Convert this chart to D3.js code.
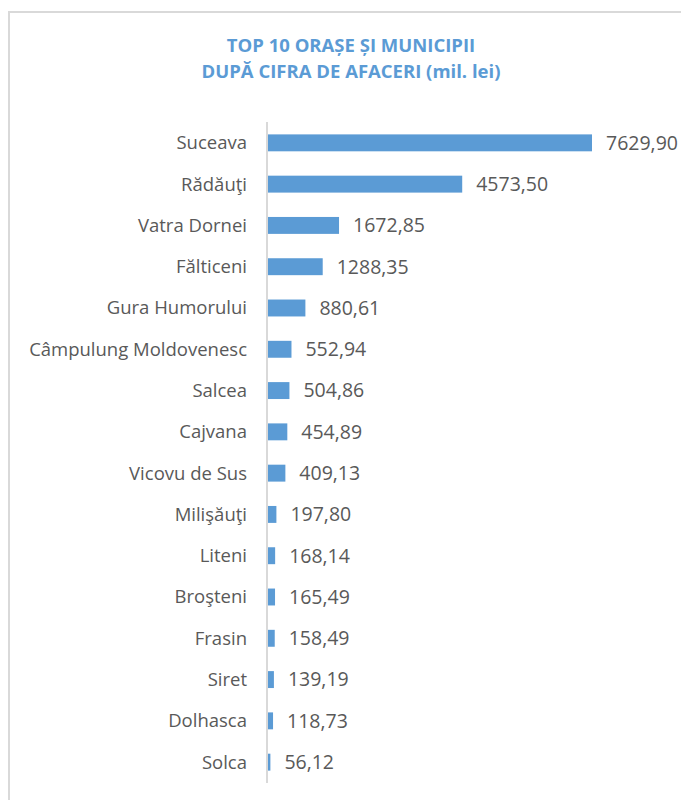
<!DOCTYPE html>
<html>
<head>
<meta charset="utf-8">
<script src="https://cdn.jsdelivr.net/npm/d3@7"></script>
<style>
body { margin: 0; background: #fff; }
</style>
</head>
<body>
<script>
var cities = ['Suceava', 'Rădăuţi', 'Vatra Dornei', 'Fălticeni', 'Gura Humorului',
    'Câmpulung Moldovenesc', 'Salcea', 'Cajvana', 'Vicovu de Sus', 'Milişăuţi',
    'Liteni', 'Broşteni', 'Frasin', 'Siret', 'Dolhasca', 'Solca'];
var values = [7629.90, 4573.50, 1672.85, 1288.35, 880.61, 552.94, 504.86, 454.89,
    409.13, 197.80, 168.14, 165.49, 158.49, 139.19, 118.73, 56.12];
var titleLines = ['TOP 10 ORAȘE ȘI MUNICIPII', 'DUPĂ CIFRA DE AFACERI (mil. lei)'];

var w = 681, h = 800;
var font = '"Open Sans", sans-serif';

var svg = d3.select('body')
.append('svg')
.attr('width', w)
.attr('height', h);

// chart frame
svg.append('rect')
.attr('x', 9)
.attr('y', 12)
.attr('width', w + 10)
.attr('height', h + 10)
.attr('fill', '#fff')
.attr('stroke', '#d9d9d9')
.attr('stroke-width', 2);

svg.selectAll('text.title')
.data(titleLines)
.enter().append('text')
.attr('class', 'title')
.attr('x', 351)
.attr('y', function(d, i) { return 52 + i * 26; })
.attr('text-anchor', 'middle')
.attr('font-family', font)
.attr('font-weight', 'bold')
.attr('font-size', 18.5)
.attr('fill', '#5b9bd5')
.text(function(d) { return d; });

var x0 = 268;
var x = d3.scaleLinear()
.domain([0, 7629.9])
.range([x0, 592]);

var y = d3.scaleBand()
.domain(cities)
.range([122, 783])
.paddingInner(0.59)
.paddingOuter(0.3);

var fmt = function(v) { return d3.format('.2f')(v).replace('.', ','); };

svg.selectAll('rect.bar')
.data(values)
.enter().append('rect')
.attr('class', 'bar')
.attr('x', x0)
.attr('y', function(d, i) { return y(cities[i]); })
.attr('width', function(d) { return x(d) - x0; })
.attr('height', y.bandwidth())
.attr('fill', '#5b9bd5');

// category axis line
svg.append('line')
.attr('x1', x0 - 1)
.attr('x2', x0 - 1)
.attr('y1', 122)
.attr('y2', 783)
.attr('stroke', '#d9d9d9')
.attr('stroke-width', 2);

svg.selectAll('text.cat')
.data(cities)
.enter().append('text')
.attr('class', 'cat')
.attr('x', 247)
.attr('y', function(d) { return y(d) + y.bandwidth() / 2; })
.attr('dy', '0.35em')
.attr('text-anchor', 'end')
.attr('font-family', font)
.attr('font-size', 18.5)
.attr('fill', '#595959')
.text(function(d) { return d; });

svg.selectAll('text.val')
.data(values)
.enter().append('text')
.attr('class', 'val')
.attr('x', function(d) { return x(d) + 14; })
.attr('y', function(d, i) { return y(cities[i]) + y.bandwidth() / 2; })
.attr('dy', '0.35em')
.attr('font-family', font)
.attr('font-size', 19.5)
.attr('fill', '#595959')
.text(fmt);
</script>
</body>
</html>
